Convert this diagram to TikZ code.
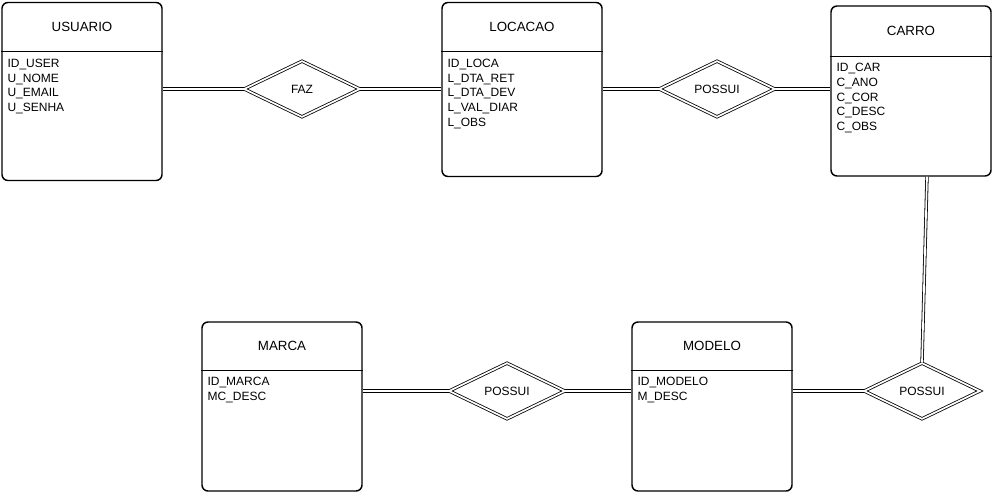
\documentclass[tikz,border=0pt]{standalone}
\usepackage{fontspec}
\setmainfont{Liberation Sans}
\usetikzlibrary{shapes.geometric,calc}
\tikzset{
  x=0.75pt, y=-0.75pt,
  ent/.style={draw, line width=1.1pt, rounded corners=4.5pt, minimum width=120pt, inner sep=0pt, fill=white},
  rel/.style={diamond, draw, double, line width=0.6pt, double distance=1.3pt, minimum width=87pt, minimum height=42pt, inner sep=0pt, font=\fontsize{9}{11}\selectfont},
  dbl/.style={draw, double, line width=0.6pt, double distance=1.3pt},
  ttl/.style={font=\fontsize{10}{12}\selectfont},
  attr/.style={anchor=north west, align=left, inner sep=0pt, font=\fontsize{9}{11}\selectfont},
  hdr/.style={line width=1.1pt}
}
\begin{document}
\begin{tikzpicture}
\useasboundingbox (0,0) rectangle (992,492);
% entities
\node[ent, minimum height=133.5pt] (usuario) at (82,91.5) {};
\node[ent, minimum height=130.5pt] (locacao) at (522,89.5) {};
\node[ent, minimum height=127.5pt] (carro) at (911,91) {};
\node[ent, minimum height=126.75pt] (marca) at (282,406.5) {};
\node[ent, minimum height=126.75pt] (modelo) at (712,406.5) {};
% headers
\draw[hdr] ([shift={(0,50)}]usuario.north west) -- ([shift={(0,50)}]usuario.north east);
\draw[hdr] ([shift={(0,50)}]locacao.north west) -- ([shift={(0,50)}]locacao.north east);
\draw[hdr] ([shift={(0,51)}]carro.north west) -- ([shift={(0,51)}]carro.north east);
\draw[hdr] ([shift={(0,49)}]marca.north west) -- ([shift={(0,49)}]marca.north east);
\draw[hdr] ([shift={(0,49)}]modelo.north west) -- ([shift={(0,49)}]modelo.north east);
% titles
\node[ttl] (tusuario) at ([shift={(0,25)}]usuario.north) {USUARIO};
\node[ttl] (tlocacao) at ([shift={(0,25)}]locacao.north) {LOCACAO};
\node[ttl] (tcarro) at ([shift={(0,25.5)}]carro.north) {CARRO};
\node[ttl] (tmarca) at ([shift={(0,24.5)}]marca.north) {MARCA};
\node[ttl] (tmodelo) at ([shift={(0,24.5)}]modelo.north) {MODELO};
% attributes
\node[attr] (ausuario) at ([shift={(6,57)}]usuario.north west) {ID\_USER\\U\_NOME\\U\_EMAIL\\U\_SENHA};
\node[attr] (alocacao) at ([shift={(6,57)}]locacao.north west) {ID\_LOCA\\L\_DTA\_RET\\L\_DTA\_DEV\\L\_VAL\_DIAR\\L\_OBS};
\node[attr] (acarro) at ([shift={(6,58)}]carro.north west) {ID\_CAR\\C\_ANO\\C\_COR\\C\_DESC\\C\_OBS};
\node[attr] (amarca) at ([shift={(6,56)}]marca.north west) {ID\_MARCA\\MC\_DESC};
\node[attr] (amodelo) at ([shift={(6,56)}]modelo.north west) {ID\_MODELO\\M\_DESC};
% relationships
\node[rel] (faz) at (302,89) {FAZ};
\node[rel] (p1) at (717,89) {POSSUI};
\node[rel] (p2) at (507,391) {POSSUI};
\node[rel] (p3) at (922,391) {POSSUI};
% connectors
\draw[dbl] (faz.west) -- (faz.west -| usuario.east);
\draw[dbl] (faz.east) -- (faz.east -| locacao.west);
\draw[dbl] (p1.west) -- (p1.west -| locacao.east);
\draw[dbl] (p1.east) -- (p1.east -| carro.west);
\draw[dbl] (p2.west) -- (p2.west -| marca.east);
\draw[dbl] (p2.east) -- (p2.east -| modelo.west);
\draw[dbl] (p3.west) -- (p3.west -| modelo.east);
\draw[dbl] ([xshift=12]carro.south) -- (p3.north);
\end{tikzpicture}
\end{document}
